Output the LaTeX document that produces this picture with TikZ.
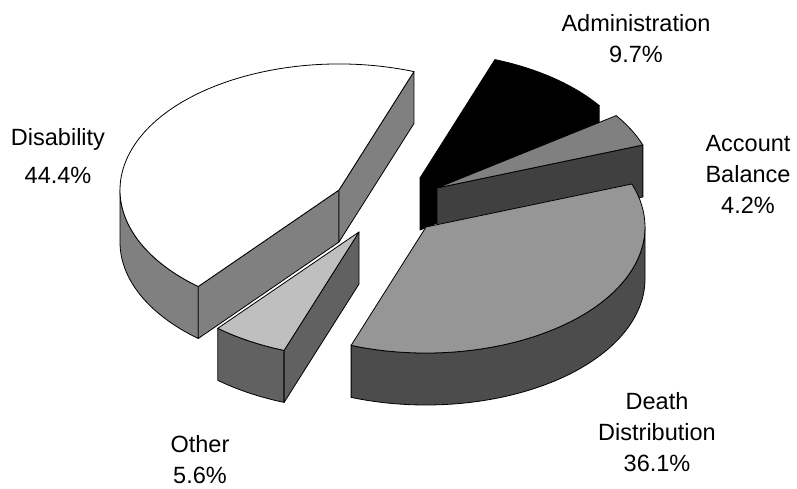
\documentclass[tikz,border=0pt]{standalone}
\usepackage{fontspec}
\setmainfont{Liberation Sans}
\usepackage{tikz}
\usetikzlibrary{positioning}

\definecolor{dissides}{gray}{0.50}
\definecolor{acctop}{gray}{0.50}
\definecolor{accside}{gray}{0.25}
\definecolor{dthtop}{gray}{0.59}
\definecolor{dthside}{gray}{0.30}
\definecolor{othtop}{gray}{0.75}
\definecolor{othside}{gray}{0.38}

% top of a slice: centre, start angle, end angle, fill
\newcommand{\topslice}[4]{%
  \filldraw[face, fill=#4] (#1) -- ++(#2:219 and 126) arc[pie arc, start angle=#2, end angle=#3] -- cycle;}
% wall along the rim
\newcommand{\rimwall}[4]{%
  \filldraw[face, fill=#4] (#1) ++(#2:219 and 126) arc[pie arc, start angle=#2, end angle=#3]
    -- ++(0,-52) arc[pie arc, start angle=#3, end angle=#2] -- cycle;}
% wall along a cut
\newcommand{\cutwall}[3]{%
  \filldraw[face, fill=#3] (#1) -- ++(#2:219 and 126) -- ++(0,-52) -- ++(#2+180:219 and 126) -- cycle;}

\begin{document}
\begin{tikzpicture}[
  x=1pt, y=1pt,
  face/.style={draw=black, line width=0.8pt, line join=round},
  pie arc/.style={x radius=219, y radius=126},
  lbl/.style={align=center, inner sep=0pt, font=\fontsize{23.5}{31}\selectfont}
]
\useasboundingbox (0,0) rectangle (797,489);

\coordinate (adm) at (420,311);
\coordinate (dis) at (339,299);
\coordinate (acc) at (437,301);
\coordinate (dth) at (426,262);
\coordinate (oth) at (359,257);

% Administration
\cutwall{adm}{35.08}{black}
\topslice{adm}{35.08}{70}{black}
% Disability
\rimwall{dis}{180}{230}{dissides}
\cutwall{dis}{230}{dissides}
\cutwall{dis}{70}{dissides}
\topslice{dis}{70}{230}{white}
% Account Balance
\cutwall{acc}{19.96}{accside}
\topslice{acc}{19.96}{35.08}{acctop}
% Death Distribution
\rimwall{dth}{-110}{0}{dthside}
\topslice{dth}{-110}{19.96}{dthtop}
% Other
\rimwall{oth}{229.84}{250}{othside}
\cutwall{oth}{250}{othside}
\topslice{oth}{229.84}{250}{othtop}

\node[lbl] (dislbl) at (58,333) {Disability\\[7pt]44.4\%};
\node[lbl] (admlbl) at (636,450) {Administration\\9.7\%};
\node[lbl] (acclbl) at (748,315) {Account\\Balance\\4.2\%};
\node[lbl] (dthlbl) at (657,57) {Death\\Distribution\\36.1\%};
\node[lbl] (othlbl) at (200,29) {Other\\5.6\%};
\end{tikzpicture}
\end{document}
